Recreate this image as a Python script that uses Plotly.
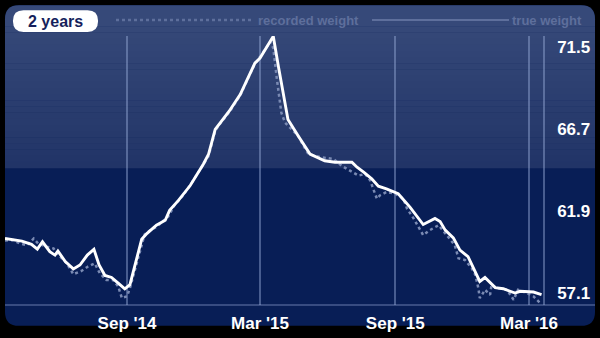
import plotly.graph_objects as go

# ---------------- data ----------------
true_dates = ["2014-03-19", "2014-04-11", "2014-04-24", "2014-05-02", "2014-05-09", "2014-05-19",
              "2014-05-26", "2014-05-30", "2014-06-09", "2014-06-20", "2014-06-29", "2014-07-09",
              "2014-07-18", "2014-07-25", "2014-08-02", "2014-08-11", "2014-08-20", "2014-08-29",
              "2014-09-05", "2014-09-21", "2014-09-28", "2014-10-11", "2014-10-23", "2014-10-29",
              "2014-11-10", "2014-11-26", "2014-12-14", "2014-12-21", "2014-12-30", "2015-01-04",
              "2015-01-18", "2015-02-02", "2015-02-22", "2015-03-01", "2015-03-19", "2015-03-26",
              "2015-04-02", "2015-04-08", "2015-04-22", "2015-05-08", "2015-05-28", "2015-06-11",
              "2015-07-04", "2015-07-11", "2015-07-20", "2015-07-31", "2015-08-09", "2015-08-20",
              "2015-09-05", "2015-09-21", "2015-10-09", "2015-10-25", "2015-11-01", "2015-11-08",
              "2015-11-19", "2015-11-28", "2015-12-09", "2015-12-25", "2016-01-01", "2016-01-15",
              "2016-01-26", "2016-02-11", "2016-02-18", "2016-03-07", "2016-03-18"]
true_weight = [60.29, 60.14, 59.95, 59.67, 60.10, 59.52, 59.32, 59.56, 58.94, 58.51, 58.74, 59.32,
               59.66, 58.74, 58.13, 58.01, 57.68, 57.35, 57.59, 60.25, 60.58, 61.07, 61.36, 61.94,
               62.52, 63.39, 64.65, 65.23, 66.68, 66.97, 67.74, 68.71, 70.55, 70.85, 72.12, 70.36,
               68.62, 67.26, 66.29, 65.23, 64.84, 64.75, 64.75, 64.46, 64.17, 63.78, 63.35, 63.20,
               62.91, 62.13, 61.11, 61.46, 61.28, 60.78, 60.33, 59.61, 59.23, 57.78, 58.01, 57.42,
               57.35, 57.10, 57.20, 57.16, 57.01]

recorded_dates = ["2014-03-19", "2014-03-30", "2014-04-08", "2014-04-18", "2014-04-27", "2014-05-03",
                  "2014-05-15", "2014-05-24", "2014-05-31", "2014-06-11", "2014-06-20", "2014-07-01",
                  "2014-07-10", "2014-07-19", "2014-07-26", "2014-08-04", "2014-08-13", "2014-08-20",
                  "2014-08-25", "2014-09-01", "2014-09-05", "2014-09-14", "2014-09-21", "2014-09-25",
                  "2014-10-02", "2014-10-12", "2014-10-19", "2014-10-27", "2014-11-05", "2014-11-16",
                  "2014-11-28", "2014-12-14", "2014-12-21", "2014-12-30", "2015-01-04", "2015-01-19",
                  "2015-02-02", "2015-02-22", "2015-03-04", "2015-03-15", "2015-03-19", "2015-03-21",
                  "2015-03-24", "2015-03-27", "2015-03-30", "2015-04-04", "2015-04-13", "2015-04-22",
                  "2015-04-29", "2015-05-06", "2015-05-24", "2015-06-09", "2015-06-20", "2015-07-04",
                  "2015-07-13", "2015-07-22", "2015-07-29", "2015-08-02", "2015-08-07", "2015-08-11",
                  "2015-08-20", "2015-09-01", "2015-09-12", "2015-09-17", "2015-09-26", "2015-10-09",
                  "2015-10-18", "2015-10-30", "2015-11-10", "2015-11-21", "2015-11-26", "2015-12-05",
                  "2015-12-14", "2015-12-19", "2015-12-23", "2015-12-25", "2015-12-28", "2016-01-01",
                  "2016-01-08", "2016-01-10", "2016-01-17", "2016-01-31", "2016-02-09", "2016-02-15",
                  "2016-02-27", "2016-03-07", "2016-03-16"]
recorded_weight = [60.18, 60.20, 60.00, 59.90, 60.29, 60.00, 59.81, 59.71, 59.32, 58.84, 58.20, 58.39,
                   58.65, 58.84, 58.26, 57.87, 57.87, 57.49, 56.81, 56.91, 57.39, 58.74, 59.90, 60.53,
                   60.76, 60.99, 61.28, 61.57, 62.27, 62.79, 63.55, 64.59, 65.11, 66.57, 66.91, 67.73,
                   68.66, 70.51, 71.10, 71.79, 71.43, 70.56, 69.59, 68.62, 67.65, 67.07, 66.68, 66.29,
                   65.71, 65.23, 65.04, 64.94, 64.55, 64.17, 63.97, 64.07, 63.68, 63.20, 62.62, 62.81,
                   63.01, 62.91, 62.62, 62.04, 61.46, 60.49, 60.78, 61.07, 60.49, 59.90, 59.13, 59.03,
                   58.55, 58.16, 57.39, 56.81, 57.00, 57.29, 57.00, 57.58, 57.39, 57.29, 56.71, 57.29,
                   57.10, 56.91, 56.52]

x_tick_dates = ["2014-09-01", "2015-03-01", "2015-09-01", "2016-03-01"]
x_tick_labels = ["Sep '14", "Mar '15", "Sep '15", "Mar '16"]
y_tick_values = [57.1, 61.9, 66.7, 71.5]
y_tick_labels = ["57.1", "61.9", "66.7", "71.5"]
period_label = "2 years"
legend_labels = ["recorded weight", "true weight"]

x_range = ["2014-03-19", "2016-03-20"]
y_range = [56.40, 72.14]

# ---------------- geometry helpers (pixel -> paper) ----------------
W, H = 600, 338
L, R, T, B = 5, 543, 36, 307


def px(x):
    return (x - L) / (R - L)


def py(y):
    return (B - y) / (B - T)


def rrect(x0, y0, x1, y1, r, bottom_round=True):
    p = []
    p.append(f"M{px(x0 + r)},{py(y0)}")
    p.append(f"L{px(x1 - r)},{py(y0)}")
    p.append(f"Q{px(x1)},{py(y0)} {px(x1)},{py(y0 + r)}")
    if bottom_round:
        p.append(f"L{px(x1)},{py(y1 - r)}")
        p.append(f"Q{px(x1)},{py(y1)} {px(x1 - r)},{py(y1)}")
        p.append(f"L{px(x0 + r)},{py(y1)}")
        p.append(f"Q{px(x0)},{py(y1)} {px(x0)},{py(y1 - r)}")
    else:
        p.append(f"L{px(x1)},{py(y1)}")
        p.append(f"L{px(x0)},{py(y1)}")
    p.append(f"L{px(x0)},{py(y0 + r)}")
    p.append(f"Q{px(x0)},{py(y0)} {px(x0 + r)},{py(y0)}")
    p.append("Z")
    return " ".join(p)


shapes = []
NAVY = "#081e56"
TOP_C = (54, 73, 121)
BOT_C = (33, 52, 103)
# panel
shapes.append(dict(type="path", xref="paper", yref="paper", path=rrect(5, 5, 595, 328, 14),
                   fillcolor=NAVY, line=dict(width=0), layer="below"))
# upper band (rounded top) + gradient strips
shapes.append(dict(type="path", xref="paper", yref="paper", path=rrect(5, 5, 595, 22, 14, bottom_round=False),
                   fillcolor="rgb(%d,%d,%d)" % TOP_C, line=dict(width=0), layer="below"))
band_top, band_bot = 20, 169
n = 24
for i in range(n):
    y0 = band_top + (band_bot - band_top) * i / n
    y1 = band_top + (band_bot - band_top) * (i + 1) / n
    t = (i + 0.5) / n
    c = tuple(int(round(TOP_C[k] + (BOT_C[k] - TOP_C[k]) * t)) for k in range(3))
    shapes.append(dict(type="rect", xref="paper", yref="paper", x0=px(5), x1=px(595),
                       y0=py(y1 + 0.3), y1=py(y0), fillcolor="rgb(%d,%d,%d)" % c,
                       line=dict(width=0), layer="below"))
GRID = "rgba(150,170,215,0.45)"
# bottom baseline across the panel
shapes.append(dict(type="line", xref="paper", yref="paper", x0=px(5), x1=px(595), y0=py(307), y1=py(307),
                   line=dict(color=GRID, width=1.5), layer="below"))
# period pill
shapes.append(dict(type="path", xref="paper", yref="paper", path=rrect(13, 10, 98, 32, 10.5),
                   fillcolor="white", line=dict(width=0), layer="above"))
LEG = "#5e6f9c"
# legend lines
shapes.append(dict(type="line", xref="paper", yref="paper", x0=px(116), x1=px(252), y0=py(20), y1=py(20),
                   line=dict(color=LEG, width=2.5, dash="dot"), layer="above"))
shapes.append(dict(type="line", xref="paper", yref="paper", x0=px(372), x1=px(509), y0=py(20), y1=py(20),
                   line=dict(color=LEG, width=2), layer="above"))

FONT = "Liberation Sans, Arial, sans-serif"
annotations = [
    dict(text="<b>%s</b>" % period_label, xref="paper", yref="paper", x=px(55.5), y=py(21.5),
         xanchor="center", yanchor="middle", showarrow=False,
         font=dict(family=FONT, size=16, color="#161f5c")),
    dict(text="<b>%s</b>" % legend_labels[0], xref="paper", yref="paper", x=px(256), y=py(20.5),
         xanchor="left", yanchor="middle", showarrow=False,
         font=dict(family=FONT, size=13, color=LEG)),
    dict(text="<b>%s</b>" % legend_labels[1], xref="paper", yref="paper", x=px(584), y=py(20.5),
         xanchor="right", yanchor="middle", showarrow=False,
         font=dict(family=FONT, size=13, color=LEG)),
]

fig = go.Figure()
fig.add_trace(go.Scatter(x=recorded_dates, y=recorded_weight, mode="lines", name=legend_labels[0],
                         line=dict(color="#7a8ab3", width=2.5, dash="3px,3px"), hoverinfo="skip"))
fig.add_trace(go.Scatter(x=true_dates, y=true_weight, mode="lines", name=legend_labels[1],
                         line=dict(color="white", width=2.9), hoverinfo="skip"))

fig.update_layout(
    width=W, height=H,
    margin=dict(l=L, r=W - R, t=T, b=H - B, pad=0),
    paper_bgcolor="black", plot_bgcolor="rgba(0,0,0,0)",
    showlegend=False,
    shapes=shapes, annotations=annotations,
    xaxis=dict(type="date", range=x_range, tickvals=x_tick_dates, ticktext=x_tick_labels,
               showgrid=True, gridcolor=GRID, gridwidth=1.5, zeroline=False, showline=False,
               ticks="outside", ticklen=3, tickcolor="rgba(0,0,0,0)",
               tickfont=dict(family=FONT, size=17, color="white", weight="bold"),
               fixedrange=True),
    yaxis=dict(range=y_range, side="right", tickvals=y_tick_values, ticktext=y_tick_labels,
               showgrid=False, zeroline=False, showline=True, linecolor=GRID, linewidth=1.5,
               ticks="outside", ticklen=9, tickcolor="rgba(0,0,0,0)",
               tickfont=dict(family=FONT, size=17, color="white", weight="bold"),
               fixedrange=True),
)

fig.write_html("out.html", config=dict(displayModeBar=False))
